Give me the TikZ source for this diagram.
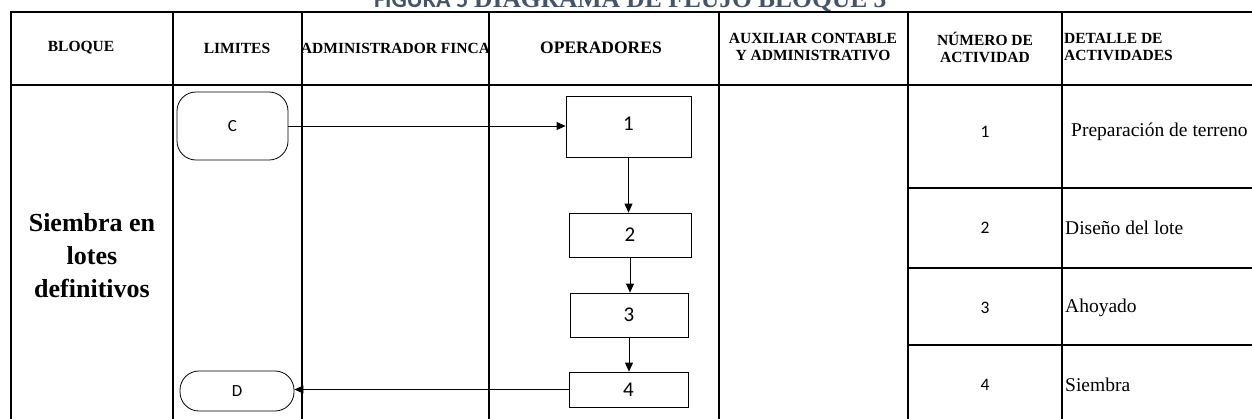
\documentclass[tikz,border=0pt]{standalone}
\usepackage{fontspec}
\setmainfont{Liberation Serif}
\newfontfamily\calib{Carlito}
\usetikzlibrary{arrows.meta}
\definecolor{titleblue}{RGB}{68,84,106}
\begin{document}
\begin{tikzpicture}[x=1pt,y=-1pt,
  grid/.style={line width=2pt},
  hdr/.style={font=\bfseries\fontsize{15.5}{17}\selectfont, align=center, inner sep=0pt},
  term/.style={draw, line width=0.8pt, rounded corners=19pt, inner sep=0pt, font=\calib\fontsize{17}{17}\selectfont},
  proc/.style={draw, line width=0.8pt, inner sep=0pt, font=\calib\fontsize{21}{21}\selectfont},
  flow/.style={line width=0.8pt, -{Triangle[length=9pt,width=8pt]}},
  num/.style={inner sep=0pt, font=\calib\fontsize{17.5}{17.5}\selectfont},
  det/.style={inner sep=0pt, anchor=west, font=\fontsize{19.5}{20}\selectfont}
]
\useasboundingbox (0,0) rectangle (1252,418);
% title (partly cut by the top edge)
\node[anchor=base west, text=titleblue, inner sep=0pt] (title) at (374,7)
  {{\calib\bfseries\fontsize{24}{24}\selectfont FIGURA 5}\hspace{6pt}{\bfseries\fontsize{25.5}{25.5}\selectfont DIAGRAMA DE FLUJO BLOQUE 3}};
% table grid
\draw[grid] (10,12) -- (1253,12);
\draw[grid] (10,85) -- (1253,85);
\foreach \x in {11,173,302,489,719,908,1062} {\draw[grid] (\x,11) -- (\x,420);}
\foreach \y in {188,268,345} {\draw[grid] (908,\y) -- (1253,\y);}
% headers
\node[hdr] (hbloque) at (81,48) {BLOQUE};
\node[hdr] (hlim) at (237,48) {LIMITES};
\begin{scope}
  \clip (303,13) rectangle (488,84);
  \node[hdr] (hadm) at (395.5,48) {ADMINISTRADOR FINCA};
\end{scope}
\node[hdr, font=\bfseries\fontsize{17.5}{17}\selectfont] (hop) at (601,48) {OPERADORES};
\node[hdr] (haux) at (813,47) {AUXILIAR CONTABLE\\Y ADMINISTRATIVO};
\node[hdr] (hnum) at (985,47) {NÚMERO DE\\ACTIVIDAD};
\node[hdr, align=left, anchor=west] (hdet) at (1064,47) {DETALLE DE\\ACTIVIDADES};
% bloque
\node[align=center, inner sep=0pt, font=\bfseries\fontsize{26}{33}\selectfont] (bloque) at (92,256) {Siembra en\\lotes\\definitivos};
% flow
\node[term, minimum width=111pt, minimum height=68pt] (C) at (232.5,126) {C};
\node[term, minimum width=114pt, minimum height=40pt] (D) at (237,391) {D};
\node[proc, minimum width=125pt, minimum height=61pt] (b1) at (628.5,127) {\raisebox{7pt}{1}};
\node[proc, minimum width=122pt, minimum height=44pt] (b2) at (630,235) {2};
\node[proc, minimum width=118pt, minimum height=44pt] (b3) at (629,315) {3};
\node[proc, minimum width=119pt, minimum height=35pt] (b4) at (628.5,389.5) {\raisebox{-4pt}{4}};
\draw[flow] (C.east) -- (C.east -| b1.west);
\draw[flow] (b1.south) -- (b1.south |- b2.north);
\draw[flow] (b2.south) -- (b2.south |- b3.north);
\draw[flow] (b3.south) -- (b3.south |- b4.north);
\draw[flow] (b4.west) -- (b4.west -| D.east);
% activities
\node[num] (n1) at (985,132) {1};
\node[num] (n2) at (985,228) {2};
\node[num] (n3) at (985,308) {3};
\node[num] (n4) at (985,385) {4};
\node[det] (d1) at (1071,132) {Preparación de terreno};
\node[det] (d2) at (1065,228) {Diseño del lote};
\node[det] (d3) at (1065,308) {Ahoyado};
\node[det] (d4) at (1065,385) {Siembra};
\end{tikzpicture}
\end{document}
